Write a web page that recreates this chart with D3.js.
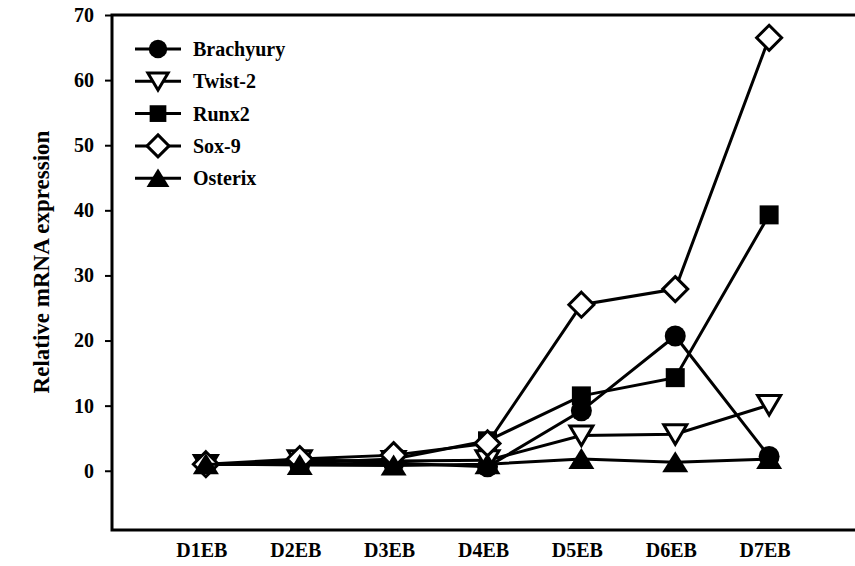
<!DOCTYPE html>
<html>
<head>
<meta charset="utf-8">
<script src="https://cdn.jsdelivr.net/npm/d3@7"></script>
<style>
  body { margin: 0; background: #fff; }
  text { font-family: "Liberation Serif", "Times New Roman", serif; font-weight: bold; fill: #000; }
</style>
</head>
<body>
<div id="chart"></div>
<script>
// data
const days = ["D1EB", "D2EB", "D3EB", "D4EB", "D5EB", "D6EB", "D7EB"];
const yTicks = [0, 10, 20, 30, 40, 50, 60, 70];
const seriesNames = ["Brachyury", "Twist-2", "Runx2", "Sox-9", "Osterix"];
const brachyury = [1.0, 1.0, 1.2, 0.6, 9.2, 20.7, 2.2];
const twist2 = [0.9, 1.6, 1.5, 1.6, 5.4, 5.6, 10.1];
const runx2 = [1.0, 1.2, 1.8, 4.6, 11.5, 14.3, 39.3];
const sox9 = [1.0, 1.8, 2.4, 4.2, 25.5, 27.9, 66.5];
const osterix = [1.0, 0.9, 0.8, 1.0, 1.8, 1.3, 1.8];

const W = 855, H = 566;

const svg = d3.select("#chart")
  .append("svg")
  .attr("width", W)
  .attr("height", H);

// frame runs off the right edge like the original
const x = d3.scalePoint()
  .domain(days)
  .range([112, 863])
  .padding(1);

const y = d3.scaleLinear()
  .domain([-9.1, 70])
  .range([530, 15]);

// marker shapes
const shapes = {
  circle: { path: "M-10.5,0A10.5,10.5 0 1,0 10.5,0A10.5,10.5 0 1,0 -10.5,0Z", fill: "#000", stroke: "none" },
  triDown: { path: "M-11.5,-9.5L11.5,-9.5L0,10Z", fill: "#fff", stroke: "#000" },
  square: { path: "M-9.5,-9.5H9.5V9.5H-9.5Z", fill: "#000", stroke: "none" },
  diamond: { path: "M0,-12.5L12.5,0L0,12.5L-12.5,0Z", fill: "#fff", stroke: "#000" },
  triUp: { path: "M0,-11L13,10L-13,10Z", fill: "#000", stroke: "none" }
};

const series = [
  { name: seriesNames[0], values: brachyury, shape: "circle" },
  { name: seriesNames[1], values: twist2, shape: "triDown" },
  { name: seriesNames[2], values: runx2, shape: "square" },
  { name: seriesNames[3], values: sox9, shape: "diamond" },
  { name: seriesNames[4], values: osterix, shape: "triUp" }
];

// y axis ticks
const yAxis = svg.append("g")
  .attr("transform", `translate(${x.range()[0]},0)`)
  .call(d3.axisLeft(y).tickValues(yTicks).tickSize(7).tickPadding(11).tickFormat(d3.format("d")));
yAxis.select(".domain").remove();
yAxis.selectAll(".tick line").attr("stroke", "#000").attr("stroke-width", 2);
yAxis.selectAll(".tick text")
  .style("font-size", "20px")
  .style("font-family", "Liberation Serif, serif")
  .style("font-weight", "bold");

// frame
svg.append("rect")
  .attr("x", x.range()[0])
  .attr("y", y(70))
  .attr("width", x.range()[1] - x.range()[0])
  .attr("height", y(-9.1) - y(70))
  .attr("fill", "none")
  .attr("stroke", "#000")
  .attr("stroke-width", 3);

// x labels
svg.append("g")
  .selectAll("text")
  .data(days)
  .join("text")
  .attr("x", d => x(d) - 4)
  .attr("y", 557)
  .attr("text-anchor", "middle")
  .style("font-size", "20px")
  .text(d => d);

// y axis title
svg.append("text")
  .attr("transform", "translate(49, 262) rotate(-90)")
  .attr("text-anchor", "middle")
  .style("font-size", "23px")
  .text("Relative mRNA expression");

const line = d3.line()
  .x((d, i) => x(days[i]))
  .y(d => y(d));

// series: line then markers, later series on top
series.forEach(s => {
  const g = svg.append("g");
  g.append("path")
    .datum(s.values)
    .attr("d", line)
    .attr("fill", "none")
    .attr("stroke", "#000")
    .attr("stroke-width", 3);
  g.selectAll("path.mark")
    .data(s.values)
    .join("path")
    .attr("class", "mark")
    .attr("transform", (d, i) => `translate(${x(days[i])},${y(d)})`)
    .attr("d", shapes[s.shape].path)
    .attr("fill", shapes[s.shape].fill)
    .attr("stroke", shapes[s.shape].stroke)
    .attr("stroke-width", 3)
    .attr("stroke-linejoin", "miter");
});

// legend
const legend = svg.append("g")
  .selectAll("g")
  .data(series)
  .join("g")
  .attr("transform", (d, i) => `translate(0, ${49 + i * 32.3})`);

legend.append("line")
  .attr("x1", 135)
  .attr("x2", 181)
  .attr("stroke", "#000")
  .attr("stroke-width", 3);

legend.append("path")
  .attr("transform", "translate(158,0) scale(0.88)")
  .attr("d", d => shapes[d.shape].path)
  .attr("fill", d => shapes[d.shape].fill)
  .attr("stroke", d => shapes[d.shape].stroke)
  .attr("stroke-width", 3.4);

legend.append("text")
  .attr("x", 193)
  .attr("y", 0)
  .attr("dy", "0.35em")
  .style("font-size", "20px")
  .text(d => d.name);
</script>
</body>
</html>
